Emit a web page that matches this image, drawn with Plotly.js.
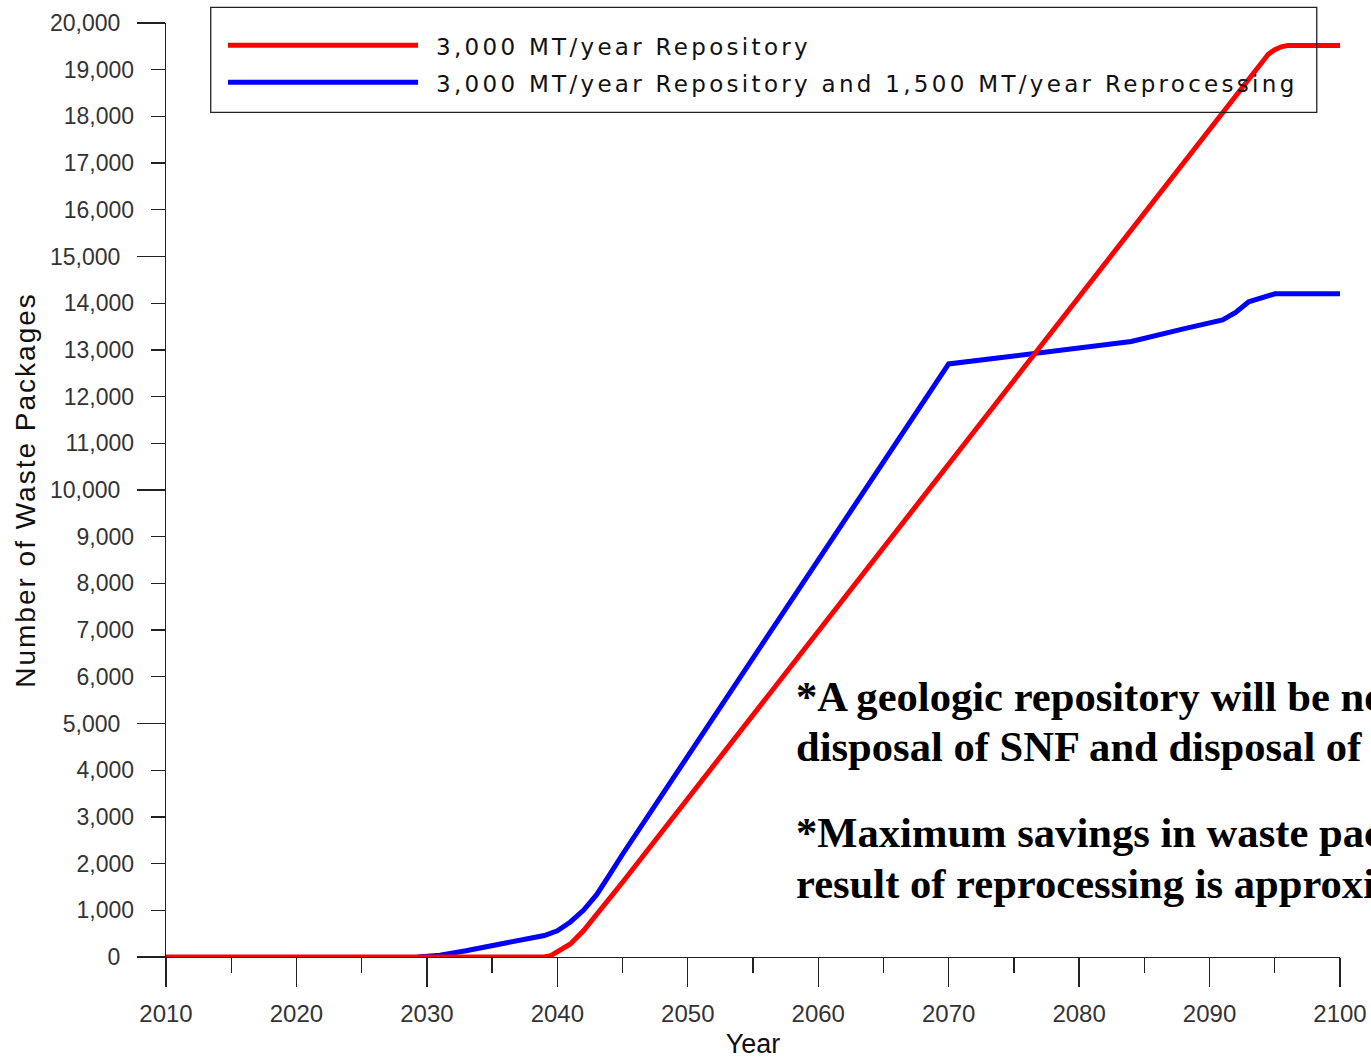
<!DOCTYPE html>
<html>
<head>
<meta charset="utf-8">
<script src="https://cdn.plot.ly/plotly-3.0.1.min.js"></script>
<style>
  html, body { margin: 0; padding: 0; background: #ffffff; }
  #chart { width: 1371px; height: 1059px; }
</style>
</head>
<body>
<div id="chart"></div>
<script>
// ---- data ----
const seriesNames = [
  "3,000 MT/year Repository",
  "3,000 MT/year Repository and 1,500 MT/year Reprocessing"
];
const seriesColors = ["#ff0000", "#0000ff"];

const redYears  = [2010, 2039, 2039.5, 2040, 2041, 2042, 2043, 2044, 2045, 2094.5, 2095, 2095.5, 2096, 2100];
const redValues = [0, 0, 30, 110, 280, 560, 900, 1250, 1600, 19330, 19430, 19490, 19520, 19520];

const blueYears  = [2029.3, 2031, 2033, 2035, 2037, 2039, 2040, 2041, 2042, 2043, 2044, 2045, 2070, 2077, 2084, 2088, 2091, 2092, 2093, 2095, 2100];
const blueValues = [0, 40, 135, 240, 350, 460, 560, 750, 1000, 1330, 1760, 2200, 12700, 12930, 13180, 13450, 13640, 13800, 14030, 14200, 14200];

const xTickVals = [2010, 2020, 2030, 2040, 2050, 2060, 2070, 2080, 2090, 2100];
const yMinorTickVals = [1000, 2000, 3000, 4000, 6000, 7000, 8000, 9000, 11000, 12000, 13000, 14000, 16000, 17000, 18000, 19000];
const yMajorTickVals = [0, 5000, 10000, 15000, 20000];

const xTitle = "Year";
const yTitle = "Number of Waste Packages";
const notes = [
  "*A geologic repository will be needed",
  "disposal of SNF and disposal of",
  "*Maximum savings in waste packages",
  "result of reprocessing is approximately"
];

// ---- traces ----
const traces = [
  { x: blueYears, y: blueValues, type: "scatter", mode: "lines", name: seriesNames[1],
    line: { color: seriesColors[1], width: 5 }, showlegend: false, hoverinfo: "x+y" },
  { x: redYears, y: redValues, type: "scatter", mode: "lines", name: seriesNames[0],
    line: { color: seriesColors[0], width: 5 }, showlegend: false, hoverinfo: "x+y" }
];

const axisColor = "#222222";
const tickFontColor = "#333333";
const sans = "Liberation Sans, Arial, sans-serif";
const spaced = (t, px) => '<span style="letter-spacing:' + px + 'px">' + t + '</span>';

// custom legend (box, long line samples, labels) in paper coordinates
const legendX0 = 0.0381, legendX1 = 0.9802, legendY0 = 0.9044, legendY1 = 1.0168;
const legendRowY = [0.9761, 0.9365];
const sampleX0 = 0.0528, sampleX1 = 0.2147, legendTextX = 0.2285;

const shapes = [
  { type: "rect", xref: "paper", yref: "paper", x0: legendX0, x1: legendX1, y0: legendY0, y1: legendY1,
    line: { color: "#222222", width: 1.3 }, fillcolor: "rgba(255,255,255,0)" }
];
seriesNames.forEach((n, i) => {
  shapes.push({ type: "line", xref: "paper", yref: "paper", x0: sampleX0, x1: sampleX1,
    y0: legendRowY[i], y1: legendRowY[i], line: { color: seriesColors[i], width: 5 } });
});

const annotations = [];
seriesNames.forEach((n, i) => {
  annotations.push({ xref: "paper", yref: "paper", x: legendTextX, y: legendRowY[i] - 0.002,
    xanchor: "left", yanchor: "middle", showarrow: false, text: spaced(n, 3.3),
    font: { family: "DejaVu Sans, Verdana, sans-serif", size: 23, color: "#111111" } });
});
const noteX = 0.5350;
const noteY = [0.2794, 0.2259, 0.1328, 0.0782];
notes.forEach((t, i) => {
  annotations.push({ xref: "paper", yref: "paper", x: noteX, y: noteY[i], xanchor: "left", yanchor: "middle",
    showarrow: false, text: "<b>" + t + "</b>",
    font: { family: "Liberation Serif, Times New Roman, serif", size: 42.6, color: "#000000" } });
});

const layout = {
  width: 1371, height: 1059,
  margin: { l: 166, r: 31, t: 23, b: 102, autoexpand: false },
  paper_bgcolor: "#ffffff", plot_bgcolor: "#ffffff",
  showlegend: false,
  xaxis: {
    range: [2010, 2100], showgrid: false, zeroline: false,
    showline: true, linecolor: axisColor, linewidth: 1.3,
    ticks: "outside", ticklen: 29, tickwidth: 1.3, tickcolor: axisColor,
    tickvals: xTickVals, tickfont: { family: sans, size: 24, color: tickFontColor },
    ticklabelstandoff: 6,
    minor: { dtick: 5, tick0: 2010, ticks: "outside", ticklen: 15, tickwidth: 1.3, tickcolor: axisColor, showgrid: false },
    title: { text: xTitle, font: { family: sans, size: 27, color: "#111111" }, standoff: 9 },
    automargin: false
  },
  yaxis: {
    range: [0, 20000], showgrid: false, zeroline: false,
    showline: true, linecolor: axisColor, linewidth: 1.3,
    ticks: "outside", ticklen: 14, tickwidth: 1.3, tickcolor: axisColor,
    tickvals: yMinorTickVals, tickformat: ",d", ticklabelstandoff: 12,
    tickfont: { family: sans, size: 23, color: tickFontColor },
    title: { text: spaced(yTitle, 2), font: { family: sans, size: 28, color: "#111111" }, standoff: 20 },
    automargin: false
  },
  yaxis2: {
    overlaying: "y", side: "left", anchor: "x",
    range: [0, 20000], showgrid: false, zeroline: false, showline: false,
    ticks: "outside", ticklen: 28, tickwidth: 1.3, tickcolor: axisColor,
    tickvals: yMajorTickVals, tickformat: ",d", ticklabelstandoff: 12,
    tickfont: { family: sans, size: 23, color: tickFontColor },
    automargin: false
  },
  shapes: shapes,
  annotations: annotations
};

// dummy trace binding yaxis2 so its ticks are drawn
traces.push({ x: [redYears[0]], y: [redValues[0]], yaxis: "y2", type: "scatter", mode: "lines",
  showlegend: false, hoverinfo: "skip", line: { width: 0 } });

Plotly.newPlot("chart", traces, layout, { displayModeBar: false, staticPlot: true });
</script>
</body>
</html>
